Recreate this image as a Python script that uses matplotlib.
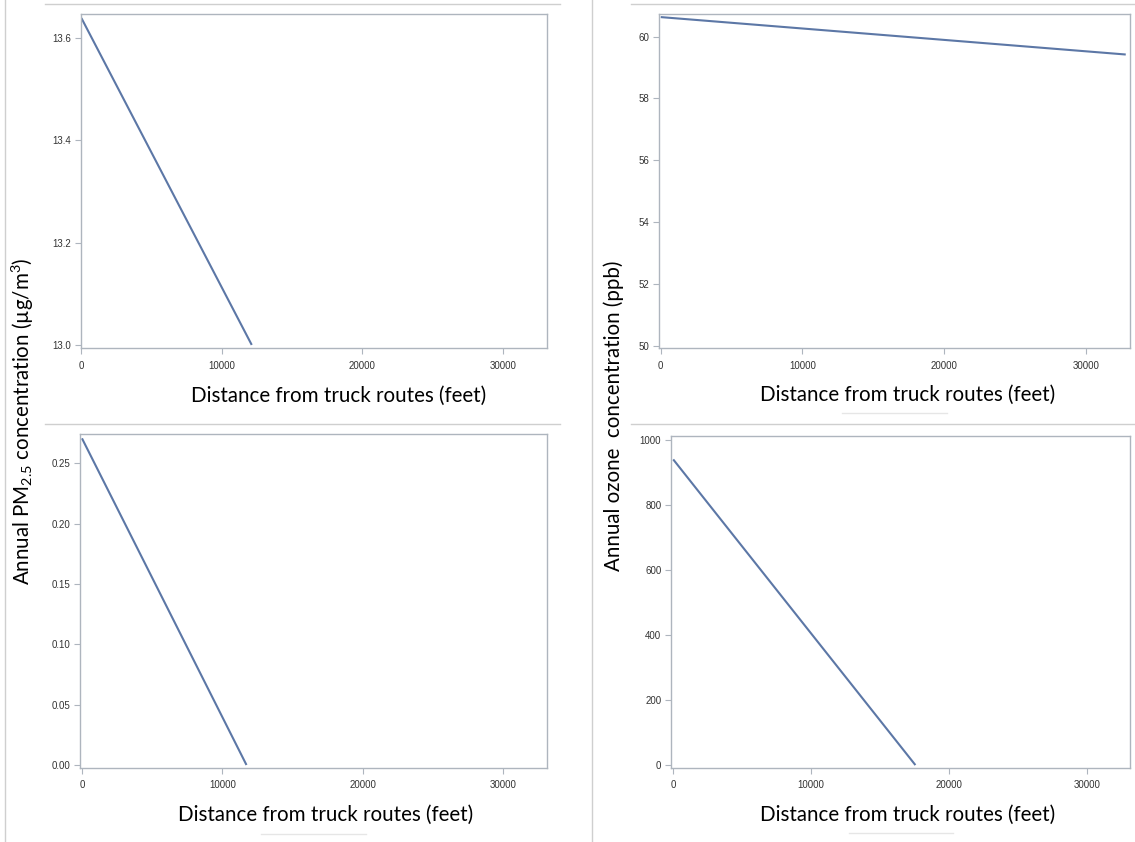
import matplotlib
matplotlib.use("Agg")
import matplotlib.pyplot as plt
from matplotlib.lines import Line2D
from matplotlib.ticker import FormatStrFormatter

# ---- data ----
x_ticks = [0, 10000, 20000, 30000]

pm_x = [0, 12120]
pm_y = [13.639, 13.0]
pm_yticks = [13.0, 13.2, 13.4, 13.6]

oz_x = [0, 32800]
oz_y = [60.63, 59.42]
oz_yticks = [50, 52, 54, 56, 58, 60]

pm_inc_x = [0, 11710]
pm_inc_y = [0.2707, 0.0]
pm_inc_yticks = [0.00, 0.05, 0.10, 0.15, 0.20, 0.25]

oz_inc_x = [0, 17550]
oz_inc_y = [940, 0]
oz_inc_yticks = [0, 200, 400, 600, 800, 1000]

xlabel_text = "Distance from truck routes (feet)"
ylabel_left = r"Annual PM$_{\mathregular{2.5}}$ concentration (µg/m$^{\mathregular{3}}$)"
ylabel_right = "Annual ozone  concentration (ppb)"

# ---- style ----
W, H = 1135, 842
plt.rcParams['mathtext.fontset'] = 'custom'
plt.rcParams['mathtext.rm'] = 'Lato'
plt.rcParams['mathtext.it'] = 'Lato:italic'
plt.rcParams['font.family'] = ['Liberation Sans', 'DejaVu Sans']

FRAME = '#AEB5BE'
LINE = '#5C77A6'
SEP = '#CFCFCF'
BIGFONT = 'Lato'
BIGSIZE = 14.8

fig = plt.figure(figsize=(W / 100, H / 100), dpi=100)
fig.patch.set_facecolor('white')


def make_ax(l, r, t, b):
    return fig.add_axes([l / W, 1 - b / H, (r - l) / W, (b - t) / H])


def style(ax, xs, ys, yticks, ylim, xlim, fmt):
    ax.plot(xs, ys, color=LINE, lw=1.5, solid_capstyle='butt')
    ax.set_xlim(*xlim)
    ax.set_ylim(*ylim)
    ax.set_xticks(x_ticks)
    ax.set_yticks(yticks)
    ax.yaxis.set_major_formatter(FormatStrFormatter(fmt))
    ax.xaxis.set_major_formatter(FormatStrFormatter('%d'))
    for s in ax.spines.values():
        s.set_color(FRAME)
        s.set_linewidth(1.0)
    ax.tick_params(direction='out', length=4, width=0.8, color=FRAME,
                   labelsize=7, labelcolor='#333333', pad=3)
    ax.tick_params(axis='x', pad=5)


ax1 = make_ax(81, 547, 14, 348)
style(ax1, pm_x, pm_y, pm_yticks, (12.994, 13.647), (-30, 33130), '%.1f')

ax2 = make_ax(659, 1130, 14, 348)
style(ax2, oz_x, oz_y, oz_yticks, (49.93, 60.73), (-120, 33100), '%d')

ax3 = make_ax(80, 547, 434, 768)
style(ax3, pm_inc_x, pm_inc_y, pm_inc_yticks, (-0.0025, 0.2743), (-140, 33100), '%.2f')

ax4 = make_ax(671, 1130, 436, 768)
style(ax4, oz_inc_x, oz_inc_y, oz_inc_yticks, (-9, 1012), (-160, 33100), '%d')

# ---- x labels ----
for cx, cy in [(339, 396), (908, 395), (326, 815), (908, 815)]:
    fig.text(cx / W, 1 - cy / H, xlabel_text, ha='center', va='center',
             fontsize=BIGSIZE, family=BIGFONT, color='black')

# ---- y labels ----
fig.text(23 / W, 1 - 421 / H, ylabel_left, rotation=90, ha='center', va='center',
         fontsize=BIGSIZE, family=BIGFONT, color='black')
fig.text(614 / W, 1 - 416 / H, ylabel_right, rotation=90, ha='center', va='center',
         fontsize=BIGSIZE, family=BIGFONT, color='black')


# ---- separator lines (composite panel borders) ----
def fline(x0, y0, x1, y1, color=SEP, lw=1.0):
    fig.add_artist(Line2D([x0 / W, x1 / W], [1 - y0 / H, 1 - y1 / H],
                          color=color, lw=lw, transform=fig.transFigure))


fline(5, 0, 5, H)
fline(592, 0, 592, H)
fline(45, 4, 560, 4)
fline(631, 4, W, 4)
fline(45, 424, 560, 424)
fline(631, 424, W, 424)
fline(842, 413, 947, 413, color='#E6E6E6')
fline(261, 834, 366, 834, color='#E6E6E6')
fline(849, 833, 953, 833, color='#E6E6E6')

fig.savefig('out.png', dpi=100, facecolor='white')
